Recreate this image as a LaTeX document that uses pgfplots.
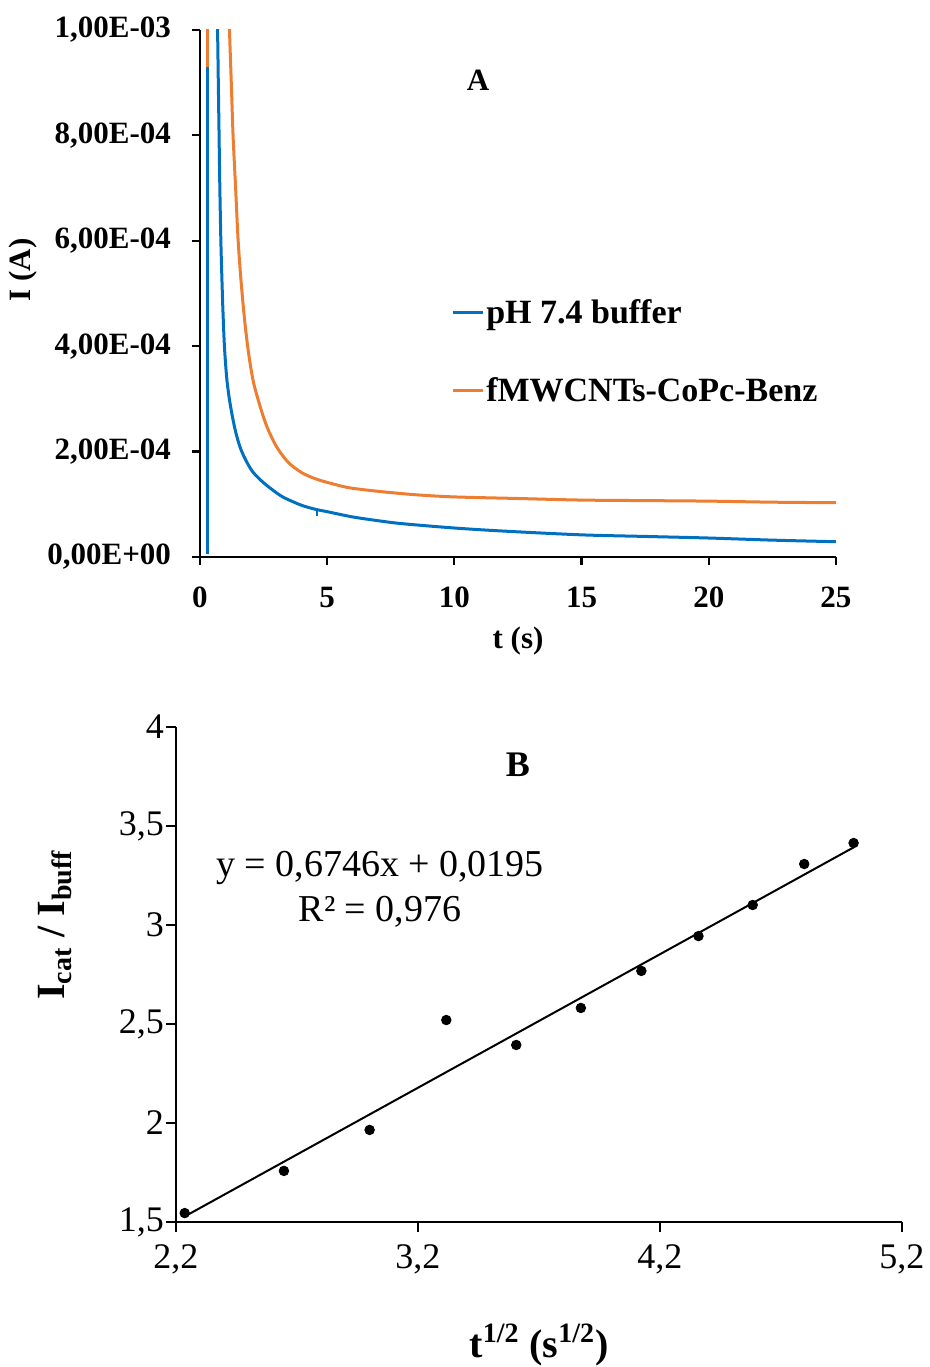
\documentclass[border=0pt]{standalone}
\usepackage{pgfplots}
\pgfplotsset{compat=1.18}
\usepackage{fontspec}
\setmainfont{Liberation Serif}
\definecolor{xblue}{RGB}{0,112,192}
\definecolor{xorange}{RGB}{237,125,49}
\begin{document}
\begin{tikzpicture}
\path[use as bounding box] (0,0) rectangle (465pt,683.5pt);
% ---------------- Panel A ----------------
\begin{axis}[
  at={(100pt,405pt)}, anchor=south west,
  scale only axis, width=318pt, height=263.5pt,
  xmin=0, xmax=25, ymin=0, ymax=1,
  axis x line=bottom, axis y line=left,
  axis line style={-, line width=1.1pt, black},
  tick align=outside, major tick length=4pt,
  tick style={line width=1.1pt, black},
  xtick={0,5,10,15,20,25},
  ytick={0,0.2,0.4,0.6,0.8,1.0},
  yticklabels={{0,00E+00},{2,00E-04},{4,00E-04},{6,00E-04},{8,00E-04},{1,00E-03}},
  /pgf/number format/assume math mode=true,
  ticklabel style={font=\bfseries\fontsize{15.5}{18}\selectfont},
  yticklabel style={xshift=-7pt},
  xticklabel style={yshift=-7.5pt},
  xlabel={t (s)}, ylabel={I (A)},
  label style={font=\bfseries\fontsize{15.5}{18}\selectfont},
  xlabel style={at={(axis description cs:0.5,-0.1600)}, anchor=center},
  ylabel style={at={(axis description cs:-0.278,0.545)}, anchor=center},
  legend style={draw=none, fill=none, at={(rel axis cs:0.385,0.505)}, anchor=north west,
    font=\bfseries\fontsize{17}{20}\selectfont, row sep=21.5pt,
    nodes={inner xsep=1pt}},
  legend cell align=left,
  legend image code/.code={\draw[#1, line width=1.5pt] (0pt,0pt) -- (15pt,0pt);},
  clip=true,
]
\addplot[xblue, line width=1.5pt, smooth, tension=0.5] coordinates {
 (0.64,1.10) (0.69,1.0) (0.72,0.90) (0.75,0.80) (0.78,0.70) (0.82,0.60)
 (0.86,0.53) (0.90,0.47) (0.96,0.40) (1.05,0.34) (1.16,0.298) (1.30,0.26) (1.43,0.232)
 (1.60,0.205) (1.84,0.180) (2.10,0.160) (2.52,0.140) (3.00,0.122) (3.33,0.112)
 (4.00,0.098) (4.58,0.090) (5.00,0.086) (6.00,0.076)
 (7.13,0.068) (8.00,0.063) (10.0,0.055) (12.0,0.049) (15.0,0.042) (17.5,0.039)
 (20.0,0.036) (22.5,0.032) (25.0,0.029)
};
\addlegendentry{pH 7.4 buffer}
\addplot[xorange, line width=1.5pt, smooth, tension=0.5] coordinates {
 (1.10,1.12) (1.16,1.0) (1.23,0.90) (1.30,0.80) (1.40,0.70) (1.50,0.60)
 (1.62,0.52) (1.77,0.442) (1.93,0.38) (2.11,0.33) (2.40,0.28) (2.65,0.245)
 (3.00,0.21) (3.46,0.18) (4.00,0.16) (4.56,0.148) (5.20,0.139) (5.91,0.131)
 (7.13,0.124) (8.50,0.118) (10.0,0.114) (12.5,0.111) (15.0,0.108) (17.5,0.107)
 (20.0,0.106) (22.5,0.104) (25.0,0.103)
};
\addlegendentry{fMWCNTs-CoPc-Benz}
% initial spikes and small blip
\addplot[xblue, line width=1.5pt, forget plot] coordinates {(0.28,0.005) (0.28,1.2)};
\addplot[xorange, line width=1.5pt, forget plot] coordinates {(0.28,0.93) (0.28,1.2)};
\addplot[xblue, line width=1.4pt, forget plot] coordinates {(4.60,0.092) (4.60,0.078)};
\node[font=\bfseries\fontsize{15.5}{18}\selectfont] at (axis cs:10.93,0.905) {A};
\end{axis}
% ---------------- Panel B ----------------
\begin{axis}[
  at={(88pt,72.5pt)}, anchor=south west,
  scale only axis, width=363pt, height=247.5pt,
  xmin=2.2, xmax=5.2, ymin=1.5, ymax=4,
  axis x line=bottom, axis y line=left,
  axis line style={-, line width=1.1pt, black},
  tick align=outside, major tick length=5pt,
  tick style={line width=1.1pt, black},
  xtick={2.2,3.2,4.2,5.2},
  xticklabels={{2,2},{3,2},{4,2},{5,2}},
  ytick={1.5,2,2.5,3,3.5,4},
  yticklabels={{1,5},{2},{2,5},{3},{3,5},{4}},
  /pgf/number format/assume math mode=true,
  ticklabel style={font=\fontsize{18}{21}\selectfont},
  yticklabel style={xshift=2.5pt},
  xticklabel style={yshift=-3pt},
  xlabel={t\textsuperscript{1/2} (s\textsuperscript{1/2})},
  ylabel={I\textsubscript{cat} / I\textsubscript{buff}},
  label style={font=\bfseries\fontsize{20}{24}\selectfont},
  xlabel style={at={(axis description cs:0.5,-0.2485)}, anchor=center},
  ylabel style={at={(axis description cs:-0.1667,0.60)}, anchor=center},
  clip=false,
]
\addplot[black, line width=1pt] coordinates {(2.236,1.528) (5.0,3.392)};
\addplot[only marks, mark=*, mark size=2.4pt, black] coordinates {
 (2.236,1.545) (2.646,1.758) (3.0,1.965) (3.317,2.52) (3.606,2.394)
 (3.873,2.581) (4.123,2.768) (4.359,2.944) (4.583,3.101) (4.796,3.308) (5.0,3.414)
};
\node[font=\fontsize{19}{22}\selectfont] at (axis cs:3.043,3.288) {y = 0,6746x + 0,0195};
\node[font=\fontsize{19}{22}\selectfont] at (axis cs:3.043,3.066) {R² = 0,976};
\node[font=\bfseries\fontsize{18}{21}\selectfont] at (axis cs:3.613,3.808) {B};
\end{axis}
\end{tikzpicture}
\end{document}
